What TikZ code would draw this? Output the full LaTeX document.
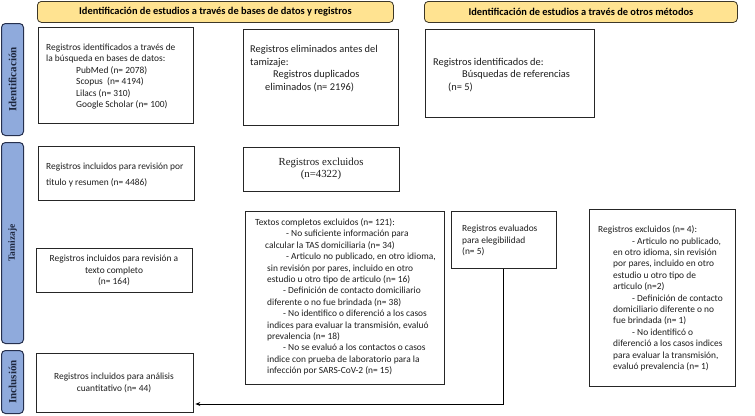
\documentclass[tikz,border=0pt]{standalone}
\usepackage{fontspec}
\setmainfont{Carlito}
\newfontfamily\serifface{Liberation Serif}
\usetikzlibrary{shadows,arrows.meta,calc}
\definecolor{hdrfill}{RGB}{255,227,145}
\definecolor{hdrline}{RGB}{60,55,40}
\definecolor{barfill}{RGB}{143,170,220}
\definecolor{barline}{RGB}{38,48,78}
\definecolor{txtcol}{RGB}{30,30,30}
\begin{document}
\begin{tikzpicture}[x=1pt,y=-1pt,
  box/.style={draw=black!85, line width=0.8pt, fill=white, inner sep=0pt, anchor=north west,
    drop shadow={shadow xshift=0.9pt, shadow yshift=-0.9pt, fill=black!45, opacity=1}},
  hdr/.style={draw=hdrline, line width=0.8pt, fill=hdrfill, rounded corners=4pt, inner sep=0pt, anchor=north west},
  hdrtxt/.style={font=\fontsize{10.4}{12}\selectfont\bfseries, text=black, inner sep=0pt},
  bar/.style={draw=barline, line width=1pt, fill=barfill, rounded corners=4pt, inner sep=0pt, anchor=north west},
  bartxt/.style={rotate=90, font=\serifface\bfseries, text=barline!80!black, inner sep=0pt},
  txt/.style={font=\fontsize{9.4}{11.4}\selectfont, text=txtcol, align=left, inner sep=0pt, anchor=west},
  txtc/.style={font=\fontsize{9.4}{11.4}\selectfont, text=txtcol, align=center, inner sep=0pt, anchor=center},
  txtbig/.style={font=\fontsize{10.4}{12.6}\selectfont, text=txtcol, align=left, inner sep=0pt, anchor=west},
  arr/.style={draw=black, line width=0.9pt, -{Stealth[length=5pt,width=4pt]}}
]
\useasboundingbox (0,0) rectangle (755,415);

% headers
\node[hdr, minimum width=356pt, minimum height=21pt] (h1) at (37,1) {};
\node[hdrtxt] (h1t) at (h1.center) {Identificación de estudios a través de bases de datos y registros};
\node[hdr, minimum width=313pt, minimum height=21pt] (h2) at (424,1) {};
\node[hdrtxt] (h2t) at (h2.center) {Identificación de estudios a través de otros métodos};

% side bars
\node[bar, minimum width=22pt, minimum height=112pt] (s1) at (1,23) {};
\node[bartxt, font=\fontsize{11}{12}\serifface\bfseries] (s1t) at (s1.center) {Identificación};
\node[bar, minimum width=22pt, minimum height=201pt] (s2) at (1,142) {};
\node[bartxt, font=\fontsize{9.5}{11}\serifface\bfseries] (s2t) at (s2.center) {Tamizaje};
\node[bar, minimum width=22pt, minimum height=63pt] (s3) at (1,350) {};
\node[bartxt, font=\fontsize{11}{12}\serifface\bfseries] (s3t) at (s3.center) {Inclusión};

% identification row
\node[box, minimum width=155pt, minimum height=96pt] (b1) at (38,27) {};
\node[txt] (b1t) at (46,76.5) {Registros identificados a través de\\
la búsqueda en bases de datos:\\
\hspace*{30pt}PubMed (n= 2078)\\
\hspace*{30pt}Scopus~ (n= 4194)\\
\hspace*{30pt}Lilacs (n= 310)\\
\hspace*{30pt}Google Scholar (n= 100)};

\node[box, minimum width=155pt, minimum height=96pt] (b2) at (243,29) {};
\node[txtbig] (b2t) at (250,68.5) {Registros eliminados antes del\\
tamizaje:\\
\hspace*{23pt}Registros duplicados\\
\hspace*{15pt}eliminados (n= 2196)};

\node[box, minimum width=169pt, minimum height=88pt] (b3) at (425,29) {};
\node[txtbig] (b3t) at (433,75) {Registros identificados de:\\
\hspace*{29pt}Búsquedas de referencias\\
\hspace*{15pt}(n= 5)};

% screening
\node[box, minimum width=156pt, minimum height=54pt] (b4) at (38,146) {};
\node[txt, font=\fontsize{9.4}{16}\selectfont] (b4t) at (46,175) {Registros incluidos para revisión por\\
titulo y resumen (n= 4486)};

\node[box, minimum width=156pt, minimum height=44pt] (b5) at (243,147) {};
\node[txtc, font=\fontsize{10.8}{12}\serifface] (b5t) at (321,169) {Registros excluidos\\(n=4322)};

\node[box, minimum width=156pt, minimum height=44pt] (b6) at (36,248) {};
\node[txtc] (b6t) at (114,270.5) {Registros incluidos para revisión a\\texto completo\\(n= 164)};

\node[box, minimum width=199pt, minimum height=173pt] (b7) at (245,211) {};
\node[txt] (b7t) at (255,297) {Textos completos excluidos (n= 121):\\
\hspace*{31pt}- No suficiente información para\\
\hspace*{10pt}calcular la TAS domiciliaria (n= 34)\\
\hspace*{31pt}- Articulo no publicado, en otro idioma,\\
\hspace*{12pt}sin revisión por pares, incluido en otro\\
\hspace*{12pt}estudio u otro tipo de articulo (n= 16)\\
\hspace*{28pt}- Definición de contacto domiciliario\\
\hspace*{12pt}diferente o no fue brindada (n= 38)\\
\hspace*{28pt}- No identifico o diferenció a los casos\\
\hspace*{12pt}indices para evaluar la transmisión, evaluó\\
\hspace*{12pt}prevalencia (n= 18)\\
\hspace*{28pt}- No se evaluó a los contactos o casos\\
\hspace*{12pt}indice con prueba de laboratorio para la\\
\hspace*{12pt}infección por SARS-CoV-2 (n= 15)};

\node[box, minimum width=105pt, minimum height=57pt] (b8) at (451,211) {};
\node[txt] (b8t) at (462,240.5) {Registros evaluados\\para elegibilidad\\(n= 5)};

\node[box, minimum width=146pt, minimum height=177pt] (b9) at (589,209) {};
\node[txt] (b9t) at (598,298.5) {Registros excluidos (n= 4):\\
\hspace*{34pt}- Articulo no publicado,\\
\hspace*{15pt}en otro idioma, sin revisión\\
\hspace*{15pt}por pares, incluido en otro\\
\hspace*{15pt}estudio u otro tipo de\\
\hspace*{15pt}articulo (n=2)\\
\hspace*{34pt}- Definición de contacto\\
\hspace*{15pt}domiciliario diferente o no\\
\hspace*{15pt}fue brindada (n= 1)\\
\hspace*{34pt}- No identificó o\\
\hspace*{15pt}diferenció a los casos indices\\
\hspace*{15pt}para evaluar la transmisión,\\
\hspace*{15pt}evaluó prevalencia (n= 1)};

% inclusion
\node[box, minimum width=157pt, minimum height=59pt] (b10) at (36,353) {};
\node[txtc] (b10t) at (114,383) {Registros incluidos para análisis\\cuantitativo (n= 44)};

% connector
\coordinate (yline) at (0,404);
\draw[arr] (b8.south) -- (b8.south |- yline) -- ([xshift=1.5pt]b10.east |- yline);
\end{tikzpicture}
\end{document}
